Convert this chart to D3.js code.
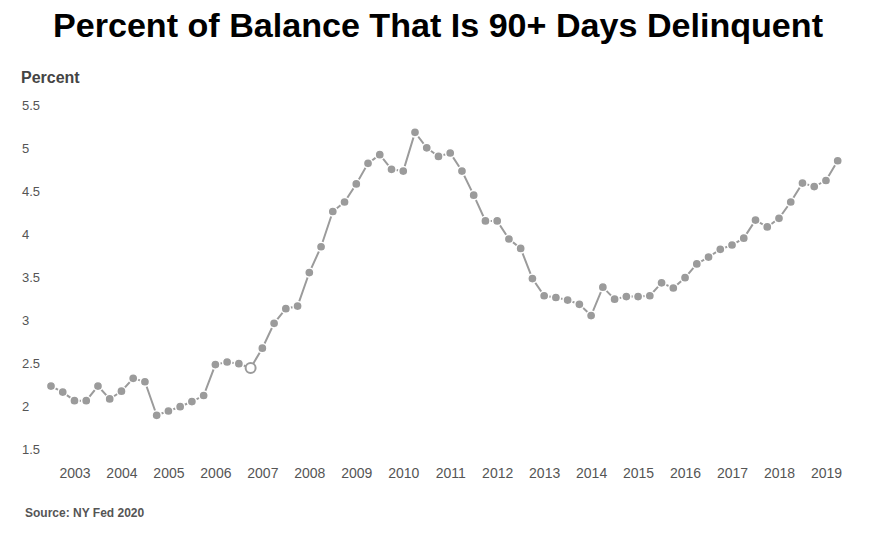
<!DOCTYPE html>
<html>
<head>
<meta charset="utf-8">
<script src="https://cdn.jsdelivr.net/npm/d3@7"></script>
<style>
  body { margin: 0; background: #fff; }
  svg text { font-family: "Liberation Sans", Arial, sans-serif; }
</style>
</head>
<body>
<div id="chart"></div>
<script>
// quarterly data, 2003 Q1 .. 2019 Q4
const years = d3.range(2003, 2020);
const quarters = ['Q1', 'Q2', 'Q3', 'Q4'];
const values = [
  2.24, 2.17, 2.07, 2.07, 2.24, 2.09, 2.18, 2.33, 2.29, 1.90, 1.95, 2.00, 2.06, 2.13, 2.49, 2.52,
  2.50, 2.45, 2.68, 2.97, 3.14, 3.17, 3.56, 3.86, 4.27, 4.38, 4.59, 4.83, 4.93, 4.76, 4.74, 5.19,
  5.01, 4.91, 4.95, 4.74, 4.46, 4.16, 4.16, 3.95, 3.84, 3.49, 3.29, 3.27, 3.24, 3.19, 3.06, 3.39,
  3.25, 3.28, 3.28, 3.29, 3.44, 3.38, 3.50, 3.66, 3.74, 3.83, 3.88, 3.96, 4.17, 4.09, 4.19, 4.38,
  4.60, 4.56, 4.63, 4.86
];
const yTicks = [1.5, 2, 2.5, 3, 3.5, 4, 4.5, 5, 5.5];
const highlightIndex = 17; // hovered point

const data = values.map((v, i) => ({
  i: i,
  label: years[Math.floor(i / 4)] + ' ' + quarters[i % 4],
  value: v
}));

const config = {
  width: 892,
  height: 541,
  color: '#9b9b9b',
  text: '#555',
  title: 'Percent of Balance That Is 90+ Days Delinquent'
};

const svg = d3.select('#chart')
  .append('svg')
  .attr('width', config.width)
  .attr('height', config.height);

// scales
const xScale = d3.scaleLinear()
  .domain([0, values.length - 1])
  .range([51, 837.7]);
const yScale = d3.scaleLinear()
  .domain([1.5, 5.5])
  .range([449.7, 105.7]);

// title (condensed bold look)
svg.append('text')
  .attr('x', 438)
  .attr('y', 37)
  .attr('text-anchor', 'middle')
  .attr('textLength', 770)
  .attr('lengthAdjust', 'spacingAndGlyphs')
  .style('font-size', '34px')
  .style('font-weight', 'bold')
  .attr('fill', '#000')
  .text(config.title);

// y axis
const yAxis = d3.axisLeft(yScale)
  .tickValues(yTicks)
  .tickFormat(d => String(d))
  .tickSize(0);
const yAxisG = svg.append('g')
  .attr('transform', 'translate(22,0)')
  .call(yAxis);
yAxisG.select('.domain').remove();
yAxisG.selectAll('text')
  .attr('x', 0)
  .attr('text-anchor', 'start')
  .attr('fill', config.text)
  .style('font-size', '13px');

svg.append('text')
  .attr('x', 21)
  .attr('y', 83)
  .attr('fill', '#444')
  .style('font-size', '16px')
  .style('font-weight', 'bold')
  .text('Percent');

// x axis, one label per year (placed mid-year)
const xAxis = d3.axisBottom(xScale)
  .tickValues(years.map((y, k) => k * 4 + 2))
  .tickFormat(d => years[(d - 2) / 4])
  .tickSize(0)
  .tickPadding(6);
const xAxisG = svg.append('g')
  .attr('transform', 'translate(0,462)')
  .call(xAxis);
xAxisG.select('.domain').remove();
xAxisG.selectAll('text')
  .attr('fill', config.text)
  .style('font-size', '14px');

// line
const line = d3.line()
  .x(d => xScale(d.i))
  .y(d => yScale(d.value));

svg.append('path')
  .datum(data)
  .attr('fill', 'none')
  .attr('stroke', config.color)
  .attr('stroke-width', 2)
  .attr('d', line);

// points
svg.append('g')
  .selectAll('circle')
  .data(data)
  .join('circle')
  .attr('cx', d => xScale(d.i))
  .attr('cy', d => yScale(d.value))
  .attr('r', d => d.i === highlightIndex ? 5 : 4.6)
  .attr('fill', d => d.i === highlightIndex ? '#fff' : config.color)
  .attr('stroke', d => d.i === highlightIndex ? config.color : '#fff')
  .attr('stroke-width', d => d.i === highlightIndex ? 2 : 1.5);

// source
svg.append('text')
  .attr('x', 25)
  .attr('y', 517)
  .attr('fill', config.text)
  .style('font-size', '12px')
  .style('font-weight', 'bold')
  .text('Source: NY Fed 2020');
</script>
</body>
</html>
